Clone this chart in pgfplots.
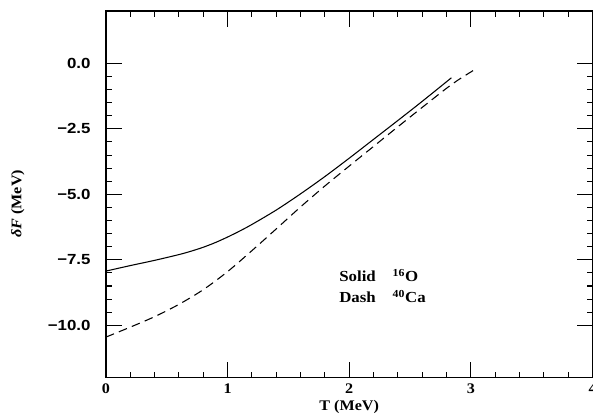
\documentclass[border=0pt]{standalone}
\usepackage{fontspec}
\setmainfont{Liberation Serif}[FakeStretch=1.1]
\setsansfont{Liberation Sans}[FakeStretch=1.15]
\usepackage{pgfplots}
\pgfplotsset{compat=1.18}
\begin{document}
\begin{tikzpicture}
\begin{axis}[
  scale only axis,
  width=365.25pt, height=275.25pt,
  xmin=0, xmax=4, ymin=-12, ymax=2,
  xtick={0,1,2,3,4},
  xticklabels={\textbf{0},\textbf{1},\textbf{2},\textbf{3},\textbf{4}},
  minor x tick num=4,
  ytick={-10,-7.5,-5,-2.5,0},
  yticklabels={\textsf{\textbf{−10.0}},\textsf{\textbf{−7.5}},\textsf{\textbf{−5.0}},\textsf{\textbf{−2.5}},\textsf{\textbf{0.0}}},
  minor y tick num=4,
  major tick length=12pt, minor tick length=4.5pt,
  tick style={black, line width=0.8pt},
  axis line style={line width=0.9pt},
  x tick label style={font=\fontsize{11}{13}\selectfont, yshift=-1pt},
  y tick label style={font=\fontsize{11}{13}\selectfont, xshift=-8pt},
  xlabel={\textbf{T (MeV)}},
  xlabel style={font=\fontsize{11}{13}\selectfont, at={(axis description cs:0.5,-0.079)}, anchor=center},
  ylabel={\textbf{\textit{δF} (MeV)}},
  ylabel style={font=\fontsize{11}{13}\selectfont, at={(axis description cs:-0.181,0.474)}, anchor=center},
  clip=false,
]
\addplot[black, line width=0.8pt, smooth] coordinates {
(0,-7.93) (0.2,-7.72) (0.4,-7.52) (0.6,-7.30) (0.7,-7.17) (0.8,-7.02)
(0.9,-6.84) (1.0,-6.63) (1.1,-6.40) (1.2,-6.15) (1.4,-5.60) (1.6,-4.98)
(1.8,-4.32) (2.0,-3.62) (2.2,-2.90) (2.4,-2.18) (2.6,-1.45) (2.84,-0.55)
};
\addplot[black, line width=0.8pt, smooth, dash pattern=on 6.5pt off 4pt] coordinates {
(0,-10.45) (0.2,-10.07) (0.4,-9.67) (0.6,-9.20) (0.8,-8.64) (1.0,-7.95)
(1.2,-7.15) (1.4,-6.32) (1.6,-5.48) (1.8,-4.68) (2.0,-3.92) (2.2,-3.17)
(2.4,-2.42) (2.6,-1.68) (2.8,-0.95) (2.9,-0.62) (3.02,-0.27)
};
\node[anchor=west, font=\fontsize{11.5}{13}\selectfont\bfseries] at (axis cs:1.88,-8.1) {Solid\hspace{1.1em}\textsuperscript{16}O};
\node[anchor=west, font=\fontsize{11.5}{13}\selectfont\bfseries] at (axis cs:1.88,-8.9) {Dash\hspace{1.1em}\textsuperscript{40}Ca};
\end{axis}
\pgfresetboundingbox
\path[use as bounding box] (-79.5pt,-30.75pt) rectangle (365.6pt,283.5pt);
\end{tikzpicture}
\end{document}
